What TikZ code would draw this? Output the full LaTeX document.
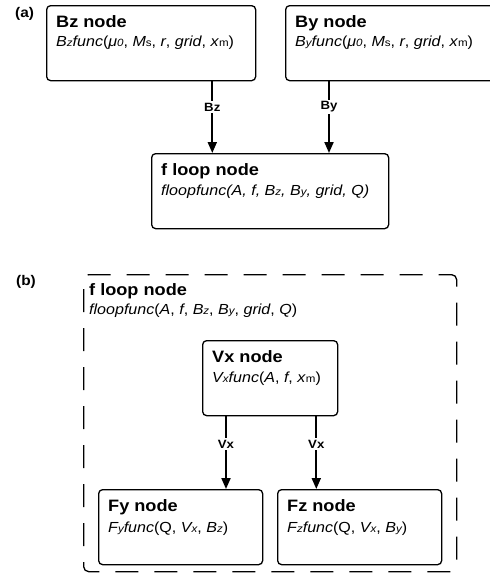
\documentclass[tikz,border=0pt]{standalone}
\usepackage{fontspec}
\setmainfont{Liberation Sans}[FakeStretch=1.1]
\usetikzlibrary{arrows.meta}
\newcommand{\lo}[1]{\raisebox{-0.7pt}{\fontsize{10.5}{10.5}\selectfont #1}}
\begin{document}
\begin{tikzpicture}[x=1pt,y=-1pt,
  box/.style={draw,line width=1.3pt,rounded corners=4pt,anchor=north west,inner sep=0pt,minimum height=75pt},
  ttl/.style={anchor=base west,inner sep=0pt,font=\fontsize{16.5}{18}\selectfont\bfseries},
  fn/.style={anchor=base west,inner sep=0pt,font=\fontsize{14.6}{16}\selectfont},
  flow/.style={line width=2pt,-{Triangle[length=11pt,width=9pt]}},
  lbl/.style={fill=white,inner sep=1.5pt,font=\fontsize{12}{13}\selectfont\bfseries},
  panel/.style={anchor=base west,font=\fontsize{14}{15}\selectfont\bfseries,inner sep=0pt},
  loopbox/.style={draw,line width=1.3pt,rounded corners=5pt,dash pattern=on 23pt off 16pt,dash phase=10pt,anchor=north west,inner sep=0pt}]
\useasboundingbox (0,0) rectangle (490,574);

% ---------- (a) ----------
\node[panel] (pa) at (15,17) {(a)};
\node[box,minimum width=209pt] (bz) at (46,5) {};
\node[ttl] (bzt) at ([xshift=10pt,yshift=-22pt]bz.north west) {Bz node};
\node[fn] (bzf) at ([xshift=10pt,yshift=-41pt]bz.north west) {\textit{B\lo{z}func}(\textit{μ\lo{0}}, \textit{M}\lo{s}, \textit{r}, \textit{grid}, \textit{x}\lo{m})};

\node[box,minimum width=209pt] (by) at (285,5) {};
\node[ttl] (byt) at ([xshift=10pt,yshift=-22pt]by.north west) {By node};
\node[fn] (byf) at ([xshift=10pt,yshift=-41pt]by.north west) {\textit{B\lo{y}func}(\textit{μ\lo{0}}, \textit{M}\lo{s}, \textit{r}, \textit{grid}, \textit{x}\lo{m})};

\node[box,minimum width=237pt] (fa) at (151,153) {};
\node[ttl] (fat) at ([xshift=10pt,yshift=-22pt]fa.north west) {f loop node};
\node[fn] (faf) at ([xshift=10pt,yshift=-42pt]fa.north west) {\textit{floopfunc(A, f, B\lo{z}, B\lo{y}, grid, Q)}};

\draw[flow] ([xshift=-44pt]bz.south east) -- node[lbl,pos=0.36] {Bz} ([xshift=-44pt]bz.south east |- fa.north);
\draw[flow] ([xshift=44pt]by.south west) -- node[lbl,pos=0.36] {By} ([xshift=44pt]by.south west |- fa.north);

% ---------- (b) ----------
\node[panel] (pb) at (16,285) {(b)};
\node[loopbox,minimum width=373pt,minimum height=297pt] (fl) at (83,274) {};
\node[ttl] (flt) at ([xshift=6pt,yshift=-21pt]fl.north west) {f loop node};
\node[fn] (flf) at ([xshift=6pt,yshift=-40pt]fl.north west) {\textit{floopfunc}(\textit{A}, \textit{f}, \textit{B\lo{z}}, \textit{B\lo{y}}, \textit{grid}, \textit{Q})};

\node[box,minimum width=135pt] (vx) at (202,340) {};
\node[ttl] (vxt) at ([xshift=10pt,yshift=-22pt]vx.north west) {Vx node};
\node[fn] (vxf) at ([xshift=10pt,yshift=-42pt]vx.north west) {\textit{V\lo{x}func}(\textit{A}, \textit{f}, \textit{x}\lo{m})};

\node[box,minimum width=164pt] (fy) at (98,489) {};
\node[ttl] (fyt) at ([xshift=10pt,yshift=-22pt]fy.north west) {Fy node};
\node[fn] (fyf) at ([xshift=10pt,yshift=-43pt]fy.north west) {\textit{F\lo{y}func}(Q, \textit{V\lo{x}}, \textit{B\lo{z}})};

\node[box,minimum width=164pt] (fz) at (277,489) {};
\node[ttl] (fzt) at ([xshift=10pt,yshift=-22pt]fz.north west) {Fz node};
\node[fn] (fzf) at ([xshift=10pt,yshift=-43pt]fz.north west) {\textit{F\lo{z}func}(Q, \textit{V\lo{x}}, \textit{B\lo{y}})};

\draw[flow] ([xshift=24pt]vx.south west) -- node[lbl,pos=0.38] {Vx} ([xshift=24pt]vx.south west |- fy.north);
\draw[flow] ([xshift=-22pt]vx.south east) -- node[lbl,pos=0.38] {Vx} ([xshift=-22pt]vx.south east |- fz.north);
\end{tikzpicture}
\end{document}
